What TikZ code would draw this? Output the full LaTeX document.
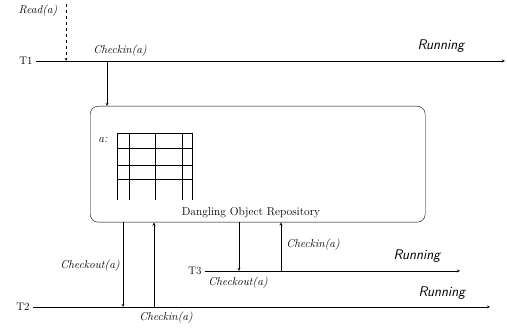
\documentclass[tikz,border=0pt]{standalone}
\tikzset{
  lbl/.style={font=\fontsize{11.5}{13}\selectfont\itshape, inner sep=1pt},
  run/.style={font=\fontsize{14}{16}\selectfont\sffamily\itshape, inner sep=1pt},
  tname/.style={font=\fontsize{11}{13}\selectfont, anchor=east},
}
\begin{document}
\begin{tikzpicture}[>=stealth, x=1pt, y=-1pt]
  \useasboundingbox (0,0) rectangle (507,328);
  % repository
  \node[draw, rounded corners=8pt, minimum width=335pt, minimum height=116pt,
        anchor=north west] (repo) at (90,106) {};
  \node[font=\fontsize{11.5}{13}\selectfont, inner sep=1pt] (repolbl) at (251,213) {Dangling Object Repository};
  \node[lbl] (objlbl) at (103,140) {a:};
  \draw (117,133) -- (192,133);
  \foreach \y in {148,165,179} \draw (117,\y) -- (192,\y);
  \foreach \x in {117,129,155,182,192} \draw (\x,133) -- (\x,200);
  % threads
  \node[tname] (t1) at (36,61) {T1};
  \node[tname] (t2) at (33,307) {T2};
  \node[tname] (t3) at (205,271) {T3};
  \coordinate (t1end) at (505,61);
  \coordinate (t2end) at (490,307);
  \coordinate (t3end) at (460,271);
  \draw[->] (t1) -- (t1end);
  \draw[->] (t2) -- (t2end);
  \draw[->] (t3) -- (t3end);
  \node[run] (run1) at (441,46) {Running};
  \node[run] (run2) at (442,293) {Running};
  \node[run] (run3) at (417,256) {Running};
  % T1
  \coordinate (rdtop) at (66,4);
  \coordinate (rd1) at (66,61);
  \draw[->, dashed] (rdtop) -- (rd1);
  \node[lbl] (rdlbl) at (38,11) {Read(a)};
  \coordinate (ci1) at (107,61);
  \draw[->] (ci1) -- (ci1 |- repo.north);
  \node[lbl] (ci1lbl) at (120,51) {Checkin(a)};
  % T2
  \coordinate (co2) at (123,307);
  \coordinate (ci2) at (154,307);
  \draw[->] (co2 |- repo.south) -- (co2);
  \draw[->] (ci2) -- (ci2 |- repo.south);
  \node[lbl] (co2lbl) at (90,266) {Checkout(a)};
  \node[lbl] (ci2lbl) at (166,318) {Checkin(a)};
  % T3
  \coordinate (co3) at (239,271);
  \coordinate (ci3) at (281,271);
  \draw[->] (co3 |- repo.south) -- (co3);
  \draw[->] (ci3) -- (ci3 |- repo.south);
  \node[lbl] (co3lbl) at (238,283) {Checkout(a)};
  \node[lbl] (ci3lbl) at (313,245) {Checkin(a)};
\end{tikzpicture}
\end{document}
